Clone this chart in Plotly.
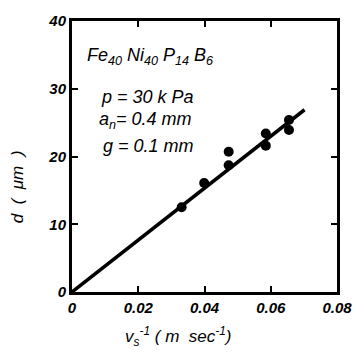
import plotly.graph_objects as go

# Data
x_pts = [0.0331, 0.0399, 0.0473, 0.0473, 0.0585, 0.0585, 0.0655, 0.0655]
d_pts = [12.5, 16.1, 20.7, 18.7, 23.4, 21.6, 25.4, 23.9]
fit_x = [0.0, 0.0702]
fit_d = [0.0, 26.9]
x_ticks = [0, 0.02, 0.04, 0.06, 0.08]
x_ticklabels = ["0", "0.02", "0.04", "0.06", "0.08"]
y_ticks = [0, 10, 20, 30, 40]
y_ticklabels = ["0", "10", "20", "30", "40"]

FONT = "Liberation Sans"
fig = go.Figure()
fig.add_trace(go.Scatter(x=fit_x, y=fit_d, mode="lines",
                         line=dict(color="black", width=3.5), showlegend=False))
fig.add_trace(go.Scatter(x=x_pts, y=d_pts, mode="markers",
                         marker=dict(color="black", size=10), showlegend=False))

tfont = dict(family=FONT, size=15, color="black", style="italic", weight="bold")
axis_common = dict(showline=True, linecolor="black", linewidth=3, mirror="ticks",
                   ticks="inside", ticklen=6, tickwidth=1.5, tickcolor="black",
                   showgrid=False, zeroline=False, tickfont=tfont)

fig.update_xaxes(range=[0, 0.08], tickvals=x_ticks, ticktext=x_ticklabels, **axis_common)
fig.update_yaxes(range=[0, 40], tickvals=y_ticks, ticktext=y_ticklabels, **axis_common)

title_font = dict(family=FONT, size=17, color="black", style="italic")
fig.add_annotation(x=0.399, y=-0.165, xref="paper", yref="paper",
                   xanchor="center", yanchor="middle", showarrow=False,
                   text="v<sub>s</sub><sup>-1</sup> ( m  sec<sup>-1</sup>)", font=title_font)
fig.add_annotation(x=-0.205, y=0.389, xref="paper", yref="paper",
                   xanchor="center", yanchor="middle", showarrow=False, textangle=-90,
                   text="d  (  μm  )", font=title_font)

ann_font = dict(family=FONT, size=18, color="black", style="italic")
fig.add_annotation(x=0.0038, y=34.7, xref="x", yref="y", xanchor="left", yanchor="middle",
                   text="Fe<sub>40</sub> Ni<sub>40</sub> P<sub>14</sub> B<sub>6</sub>",
                   showarrow=False, font=ann_font)
fig.add_annotation(x=0.0080, y=28.8, xref="x", yref="y", xanchor="left", yanchor="middle",
                   text="p = 30 k Pa", showarrow=False, font=ann_font)
fig.add_annotation(x=0.0074, y=25.3, xref="x", yref="y", xanchor="left", yanchor="middle",
                   text="a<sub>n</sub>= 0.4 mm", showarrow=False, font=ann_font)
fig.add_annotation(x=0.0089, y=21.5, xref="x", yref="y", xanchor="left", yanchor="middle",
                   text="g = 0.1 mm", showarrow=False, font=ann_font)

fig.update_layout(width=364, height=358, margin=dict(l=72, r=19, t=15, b=66),
                  plot_bgcolor="white", paper_bgcolor="white")
fig.write_html("out.html", config={"displayModeBar": False},
               post_script="document.body.style.margin='0px';")
